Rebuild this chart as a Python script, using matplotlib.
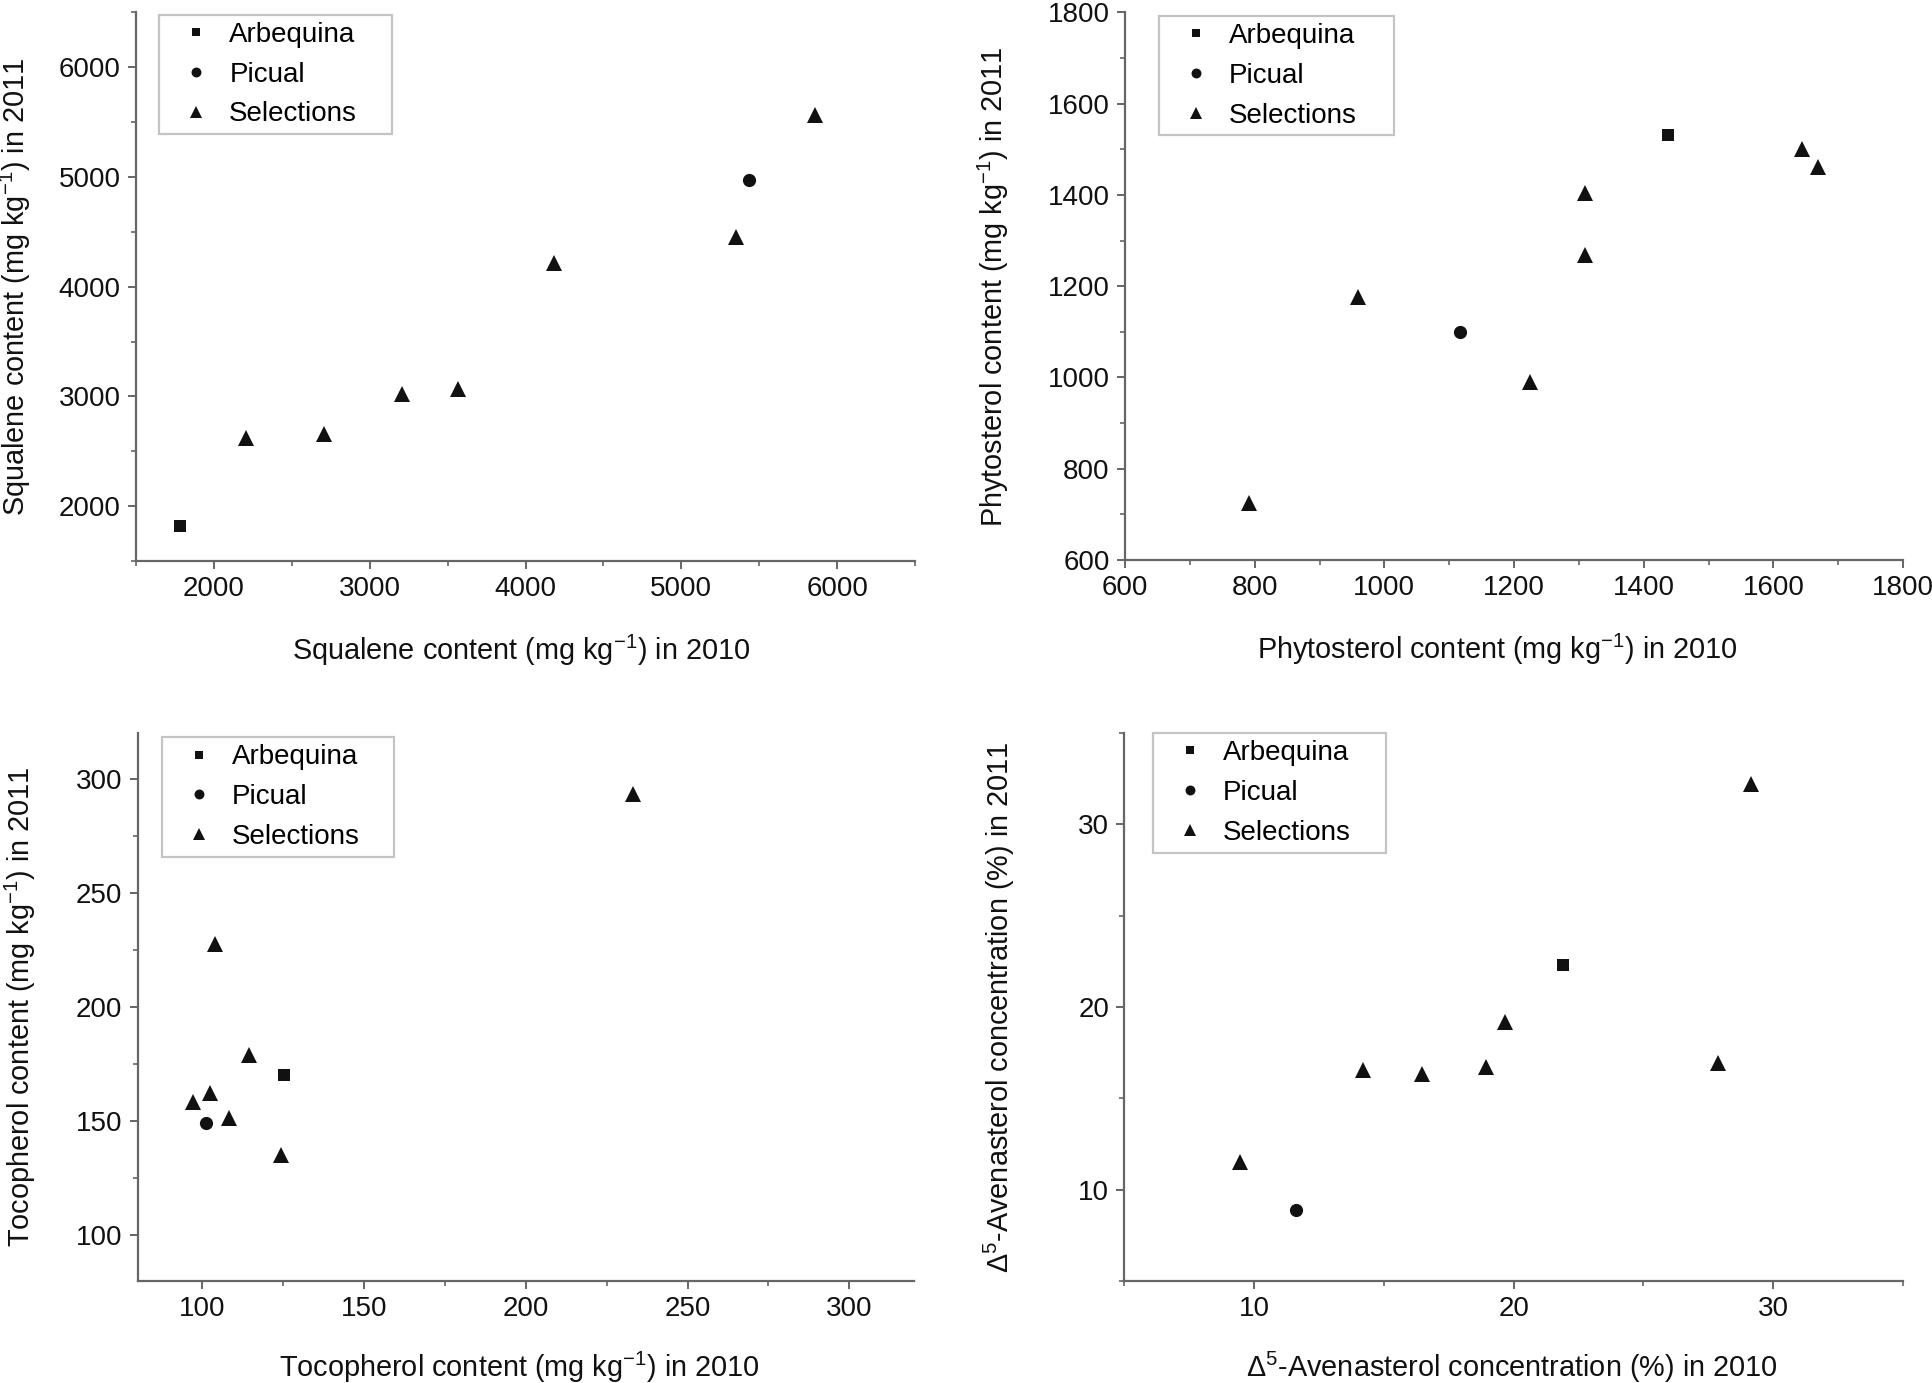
import matplotlib
matplotlib.use("Agg")
import matplotlib.pyplot as plt
from matplotlib.ticker import MultipleLocator

plt.rcParams['font.family'] = ['Liberation Sans', 'DejaVu Sans']
plt.rcParams['mathtext.fontset'] = 'custom'
plt.rcParams['mathtext.rm'] = 'Liberation Sans'
plt.rcParams['mathtext.it'] = 'Liberation Sans:italic'
plt.rcParams['mathtext.bf'] = 'Liberation Sans:bold'

groups = ["Arbequina", "Picual", "Selections"]

# Squalene (mg/kg)
arb_sq_2010 = [1780]
arb_sq_2011 = [1818]
pic_sq_2010 = [5434]
pic_sq_2011 = [4971]
sel_sq_2010 = [2207, 2704, 3207, 3565, 4181, 5350, 5858]
sel_sq_2011 = [2624, 2655, 3021, 3070, 4221, 4450, 5562]

# Phytosterol (mg/kg)
arb_ph_2010 = [1438]
arb_ph_2011 = [1531]
pic_ph_2010 = [1116]
pic_ph_2011 = [1100]
sel_ph_2010 = [791, 960, 1224, 1310, 1310, 1644, 1669]
sel_ph_2011 = [726, 1176, 990, 1404, 1268, 1501, 1461]

# Tocopherol (mg/kg)
arb_to_2010 = [125.1]
arb_to_2011 = [170.3]
pic_to_2010 = [101.1]
pic_to_2011 = [149.1]
sel_to_2010 = [103.8, 114.5, 102.3, 97.2, 108.1, 124.3, 233.2]
sel_to_2011 = [227.4, 178.8, 162.5, 158.5, 151.3, 135.0, 293.5]

# Delta5-Avenasterol (%)
arb_av_2010 = [21.9]
arb_av_2011 = [22.3]
pic_av_2010 = [11.6]
pic_av_2011 = [8.86]
sel_av_2010 = [9.47, 14.21, 16.46, 18.95, 19.67, 27.87, 29.15]
sel_av_2011 = [11.53, 16.55, 16.33, 16.70, 19.20, 16.92, 32.2]

W, H = 1933, 1383
fig = plt.figure(figsize=(W / 100, H / 100), dpi=100)

FS = 20
LFS = 20.8
SPINE = '#666666'

def px_axes(x0, y0, x1, y1):
    return fig.add_axes([x0 / W, 1 - y1 / H, (x1 - x0) / W, (y1 - y0) / H])

panels = [
    dict(rect=(136, 12.5, 915, 561),
         data=[(arb_sq_2010, arb_sq_2011), (pic_sq_2010, pic_sq_2011), (sel_sq_2010, sel_sq_2011)],
         xlim=(1500, 6500), ylim=(1500, 6500), xmin=500, ymin=500,
         xticks=[2000, 3000, 4000, 5000, 6000], yticks=[2000, 3000, 4000, 5000, 6000],
         xlabel=r'Squalene content (mg kg$^{-1}$) in 2010',
         ylabel=r'Squalene content (mg kg$^{-1}$) in 2011',
         ylx=-0.132, xlx=0.494, xly=-0.131, leg=(0.0295, 0.996, 0.299)),
    dict(rect=(1125, 12.5, 1903, 560),
         data=[(arb_ph_2010, arb_ph_2011), (pic_ph_2010, pic_ph_2011), (sel_ph_2010, sel_ph_2011)],
         xlim=(600, 1800), ylim=(600, 1800), xmin=100, ymin=100,
         xticks=list(range(600, 1801, 200)), yticks=list(range(600, 1801, 200)),
         xlabel=r'Phytosterol content (mg kg$^{-1}$) in 2010',
         ylabel=r'Phytosterol content (mg kg$^{-1}$) in 2011',
         ylx=-0.146, xlx=0.479, xly=-0.132, leg=(0.0434, 0.994, 0.303)),
    dict(rect=(137.7, 733, 914, 1281),
         data=[(arb_to_2010, arb_to_2011), (pic_to_2010, pic_to_2011), (sel_to_2010, sel_to_2011)],
         xlim=(80, 320), ylim=(80, 320), xmin=25, ymin=25,
         xticks=[100, 150, 200, 250, 300], yticks=[100, 150, 200, 250, 300],
         xlabel=r'Tocopherol content (mg kg$^{-1}$) in 2010',
         ylabel=r'Tocopherol content (mg kg$^{-1}$) in 2011',
         ylx=-0.128, xlx=0.492, xly=-0.126, leg=(0.0307, 0.992, 0.300)),
    dict(rect=(1124.4, 733, 1903, 1281),
         data=[(arb_av_2010, arb_av_2011), (pic_av_2010, pic_av_2011), (sel_av_2010, sel_av_2011)],
         xlim=(5, 35), ylim=(5, 35), xmin=5, ymin=5,
         xticks=[10, 20, 30], yticks=[10, 20, 30],
         xlabel=r'$\Delta^{5}$-Avenasterol concentration (%) in 2010',
         ylabel=r'$\Delta^{5}$-Avenasterol concentration (%) in 2011',
         ylx=-0.138, xlx=0.497, xly=-0.126, leg=(0.0364, 1.0, 0.299)),
]

markers = ['s', 'o', '^']
sizes = [8.5, 9.5, 11.5]

for p in panels:
    ax = px_axes(*p['rect'])
    for (xs, ys), g, m, ms in zip(p['data'], groups, markers, sizes):
        ax.plot(xs, ys, linestyle='none', marker=m, markersize=ms, color='#111111',
                markeredgewidth=0, label=g, clip_on=False)
    ax.set_xlim(*p['xlim'])
    ax.set_ylim(*p['ylim'])
    ax.set_xticks(p['xticks'])
    ax.set_yticks(p['yticks'])
    ax.xaxis.set_minor_locator(MultipleLocator(p['xmin']))
    ax.yaxis.set_minor_locator(MultipleLocator(p['ymin']))
    for s in ['top', 'right']:
        ax.spines[s].set_visible(False)
    for s in ['left', 'bottom']:
        ax.spines[s].set_color(SPINE)
        ax.spines[s].set_linewidth(1.6)
    ax.tick_params(which='major', direction='out', length=6, width=1.4, color=SPINE,
                   labelsize=FS, pad=5, labelcolor='#111111')
    ax.tick_params(which='minor', direction='out', length=3.5, width=1.2, color=SPINE)
    ax.set_xlabel(p['xlabel'], fontsize=LFS, color='#111111')
    ax.set_ylabel(p['ylabel'], fontsize=LFS, color='#111111')
    ax.yaxis.set_label_coords(p['ylx'], 0.5)
    ax.xaxis.set_label_coords(p['xlx'], p['xly'])
    lx, ly, lw = p['leg']
    leg = ax.legend(loc='upper left', bbox_to_anchor=(lx, ly - 0.25, lw, 0.25),
                    mode='expand', fontsize=FS, frameon=True, fancybox=False,
                    borderaxespad=0, borderpad=0.25, handlelength=2.2,
                    handletextpad=0.08, labelspacing=0.5, markerscale=0.75,
                    numpoints=1)
    fr = leg.get_frame()
    fr.set_edgecolor('#c4c4c4')
    fr.set_linewidth(1.6)
    fr.set_facecolor('white')
    fr.set_alpha(1)

fig.savefig('out.png', dpi=100)
